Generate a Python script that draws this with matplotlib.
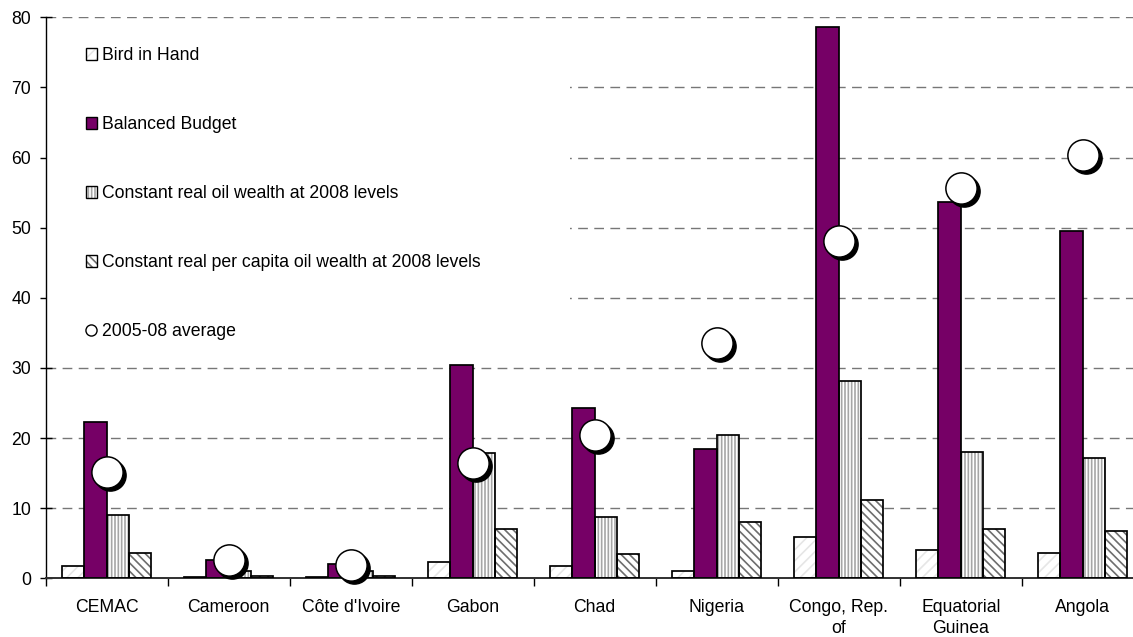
import matplotlib
matplotlib.use("Agg")
import matplotlib.pyplot as plt
import matplotlib.transforms as mtransforms
from matplotlib.patches import Patch, Rectangle
from matplotlib.lines import Line2D
from matplotlib.legend_handler import HandlerTuple
import numpy as np

# ---- data -------------------------------------------------------------
countries = ["CEMAC", "Cameroon", "Côte d'Ivoire", "Gabon", "Chad", "Nigeria",
             "Congo, Rep.\nof", "Equatorial\nGuinea", "Angola"]
bird_in_hand = [1.7, 0.2, 0.15, 2.3, 1.8, 1.1, 5.9, 4.0, 3.6]
balanced_budget = [22.3, 2.6, 2.0, 30.4, 24.3, 18.4, 78.6, 53.6, 49.5]
const_real_wealth = [9.1, 1.1, 1.0, 17.9, 8.8, 20.5, 28.2, 18.0, 17.1]
const_per_capita_wealth = [3.6, 0.4, 0.4, 7.0, 3.4, 8.1, 11.1, 7.0, 6.7]
average_2005_08 = [15.1, 2.6, 1.9, 16.4, 20.5, 33.5, 48.1, 55.7, 60.3]

series_labels = ["Bird in Hand", "Balanced Budget",
                 "Constant real oil wealth at 2008 levels",
                 "Constant real per capita oil wealth at 2008 levels"]
avg_label = "2005-08 average"
y_ticks = [0, 10, 20, 30, 40, 50, 60, 70, 80]

# ---- style ------------------------------------------------------------
FS = 12.7
plt.rcParams["font.family"] = ["Liberation Sans", "DejaVu Sans"]
plt.rcParams["font.size"] = FS
plt.rcParams["hatch.linewidth"] = 1.2

purple = "#760066"
# (face colour, hatch colour, hatch pattern) per series
styles = [
    ("white", "#e6e6e6", "///"),
    (purple, purple, None),
    ("white", "#a6a6a6", "|||||"),
    ("white", "#6e6e6e", "\\\\\\\\"),
]
series = [bird_in_hand, balanced_budget, const_real_wealth, const_per_capita_wealth]

fig = plt.figure(figsize=(11.33, 6.37), dpi=100)
ax = fig.add_axes([45.7 / 1133, 0.0921, 1098 / 1133, 0.8807])

x = np.arange(len(countries))
w = 0.182
offsets = [-1.5 * w, -0.5 * w, 0.5 * w, 1.5 * w]

handles = []
for vals, off, (fc, hc, hatch) in zip(series, offsets, styles):
    ax.bar(x + off, vals, w, facecolor=fc, edgecolor=hc, hatch=hatch,
           linewidth=0, zorder=2)
    ax.bar(x + off, vals, w, fill=False, edgecolor="black", linewidth=1.25,
           zorder=3)
    handles.append((Patch(facecolor=fc, edgecolor=hc, hatch=hatch, linewidth=0),
                    Patch(fill=False, edgecolor="black", linewidth=1.0)))

# 2005-08 average: white discs with a drop shadow
shadow = mtransforms.offset_copy(ax.transData, fig=fig, x=3.0, y=-3.0, units="dots")
ax.plot(x, average_2005_08, linestyle="none", marker="o", markersize=22.5,
        markerfacecolor="black", markeredgecolor="black", transform=shadow,
        zorder=4, clip_on=False)
ax.plot(x, average_2005_08, linestyle="none", marker="o", markersize=22.5,
        markerfacecolor="white", markeredgecolor="black", markeredgewidth=1.1,
        zorder=5, clip_on=False)
handles.append(Line2D([], [], linestyle="none", marker="o", markersize=8,
                      markerfacecolor="white", markeredgecolor="black",
                      markeredgewidth=1.0))

# axes limits, grid and ticks
ax.set_xlim(-0.5, len(countries) - 0.5)
ax.set_ylim(0, 80)
ax.set_yticks(y_ticks)
ax.yaxis.grid(True, color="#777777", linewidth=1.0,
              linestyle=(0, (7.0, 4.6)))
ax.set_axisbelow(True)

# legend background hides the grid behind it
ax.add_patch(Rectangle((0, 31.5), 0.4775, 47.0, facecolor="white",
                       edgecolor="none", zorder=1,
                       transform=ax.get_yaxis_transform()))

ax.set_xticks(x)
ax.set_xticklabels(countries, linespacing=1.3)
ax.set_xticks(np.arange(len(countries) + 1) - 0.5, minor=True)
ax.tick_params(axis="x", which="major", length=0, pad=15, labelsize=FS)
ax.tick_params(axis="x", which="minor", length=6, width=1.0, direction="out")
ax.tick_params(axis="y", direction="inout", length=9, width=1.0, pad=6,
               labelsize=FS)

for side in ("top", "right"):
    ax.spines[side].set_visible(False)
ax.spines["left"].set_linewidth(1.0)
ax.spines["bottom"].set_linewidth(1.4)
ax.spines["bottom"].set_color("#303030")

leg = ax.legend(handles, series_labels + [avg_label],
                handler_map={tuple: HandlerTuple(ndivide=1, pad=0)},
                loc="upper left", bbox_to_anchor=(0.0367, 0.947),
                frameon=False, borderpad=0, borderaxespad=0,
                handlelength=0.62, handleheight=0.62, handletextpad=0.3,
                labelspacing=2.95, fontsize=FS)
leg.set_zorder(10)

fig.savefig("out.png", dpi=100)
